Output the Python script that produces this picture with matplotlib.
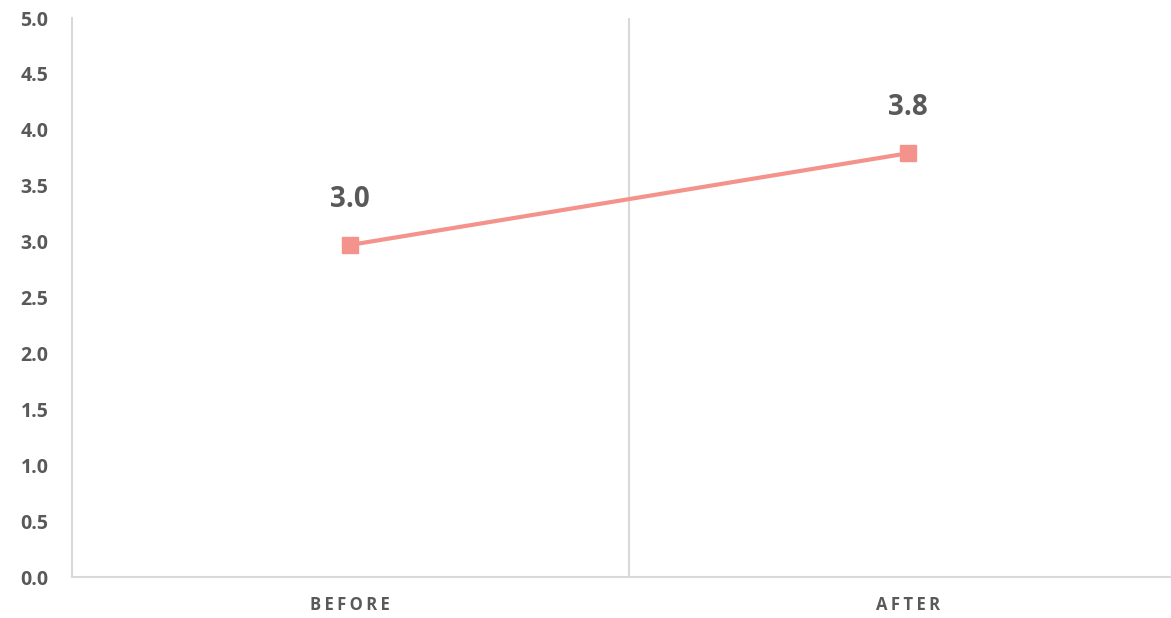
import matplotlib.pyplot as plt

# data
categories = ['BEFORE', 'AFTER']
values = [2.97, 3.79]
value_labels = ['3.0', '3.8']
y_ticks = [0.0, 0.5, 1.0, 1.5, 2.0, 2.5, 3.0, 3.5, 4.0, 4.5, 5.0]

plt.rcParams['font.family'] = ['Open Sans', 'DejaVu Sans']

fig = plt.figure(figsize=(11.71, 6.18), dpi=100)
ax = fig.add_axes([0.0615, 0.0663, 0.9375, 0.9045])

x = list(range(len(categories)))
ax.plot(x, values, color='#f4938c', linewidth=3, marker='s', markersize=11, zorder=3)

# data labels above points
for xi, v, lab in zip(x, values, value_labels):
    ax.annotate(lab, (xi, v), xytext=(0, 33), textcoords='offset points',
                ha='center', va='center', fontsize=20, fontweight='bold', color='#595959')

# separator between categories
ax.axvline(0.5, color='#d9d9d9', linewidth=1.5, zorder=1)

ax.set_xlim(-0.498, 1.47)
ax.set_ylim(0, 5)
ax.set_yticks(y_ticks)
ax.set_yticklabels([f'{t:.1f}' for t in y_ticks])
ax.set_xticks(x)
# letter-spaced category labels (thin spaces between letters)
ax.set_xticklabels(['\u2009'.join(c) for c in categories])

for s in ['top', 'right']:
    ax.spines[s].set_visible(False)
for s in ['left', 'bottom']:
    ax.spines[s].set_color('#d9d9d9')
    ax.spines[s].set_linewidth(1.5)

ax.tick_params(axis='y', length=0, pad=17, labelsize=14, labelcolor='#595959')
ax.tick_params(axis='x', length=0, pad=14, labelsize=12, labelcolor='#595959')
for lbl in ax.get_yticklabels() + ax.get_xticklabels():
    lbl.set_fontweight('bold')

fig.savefig('out.png', dpi=100)
